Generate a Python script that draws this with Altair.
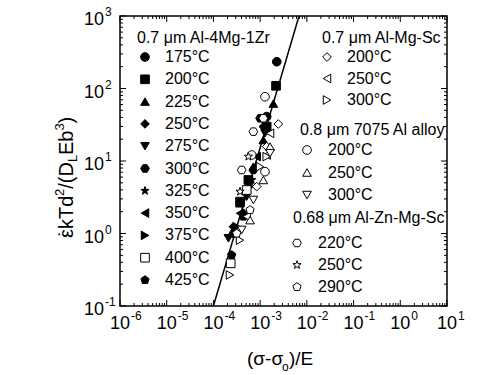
import altair as alt
import pandas as pd

W, H = 327, 290
FONT = "Liberation Sans"

# ---------------- data ----------------
zr175_x = [2.27e-3, 1.38e-3]; zr175_y = [234, 41]
zr200_x = [2.19e-3, 1.38e-3, 5.6e-4, 3.71e-4]; zr200_y = [109, 29.8, 5.47, 2.75]
zr225_x = [1.92e-3, 1.17e-3, 7.16e-4, 3.71e-4]; zr225_y = [62, 19.5, 8.35, 2.61]
zr250_x = [1.17e-3, 8.45e-4, 2.67e-4, 4.38e-4]; zr250_y = [29.8, 8.35, 1.24, 1.9]
zr275_x = [1.27e-3, 5.15e-4, 2.09e-4]; zr275_y = [24.1, 3.22, 0.857]
zr300_x = [9.95e-4, 7.16e-4, 2.67e-4]; zr300_y = [38.8, 7.52, 1.0]
zr325_x = [5.15e-4, 6.59e-4]; zr325_y = [3.58, 5.47]
zr350_x = [3.71e-4, 8.45e-4]; zr350_y = [1.9, 11.5]
zr375_x = [3.15e-4, 6.08e-4]; zr375_y = [1.24, 4.43]
zr400_x = [2.34e-4, 5.15e-4]; zr400_y = [0.388, 3.98]
zr425_x = [2.46e-4, 4.38e-4]; zr425_y = [0.505, 1.71]

sc200_x = [2.45e-3, 8.45e-4, 1.38e-3]; sc200_y = [32.4, 4.43, 15.8]
sc250_x = [1.38e-3, 5.15e-4, 1.63e-3]; sc250_y = [12.1, 1.71, 24.1]
sc300_x = [2.26e-4, 9.95e-4, 3.71e-4, 1.38e-3]; sc300_y = [0.268, 8.35, 0.81, 11.5]
al200_x = [1.27e-3, 1.27e-3, 6.59e-4]; al200_y = [77, 7.13, 12.1]
al250_x = [1.63e-3, 1.17e-3, 6.08e-4]; al250_y = [15.8, 5.47, 1.53]
al300_x = [7.16e-4, 1.63e-3, 4.03e-4]; al300_y = [2.9, 12.8, 1.12]
zn220_x = [7.16e-4, 4.03e-4, 1.17e-3]; zn220_y = [25.4, 7.52, 38.8]
zn250_x = [5.6e-4, 3.71e-4]; zn250_y = [11.5, 3.78]
zn290_x = [3.15e-4, 6.08e-4]; zn290_y = [1.0, 2.11]

fit_x = [1e-4, 6.8e-3]
fit_y = [0.1, 1000]

x_exponents = ["-6", "-5", "-4", "-3", "-2", "-1", "0", "1"]
y_exponents = ["-1", "0", "1", "2", "3"]

group_titles = ["0.7 μm Al-4Mg-1Zr", "0.7 μm Al-Mg-Sc", "0.8 μm 7075 Al alloy", "0.68 μm Al-Zn-Mg-Sc"]

# ---------------- styles ----------------
HEX = "M1,0L0.5,0.866L-0.5,0.866L-1,0L-0.5,-0.866L0.5,-0.866Z"
PENT = "M0,-1L0.951,-0.309L0.588,0.809L-0.588,0.809L-0.951,-0.309Z"
STAR = ("M0,-1L0.235,-0.324L0.951,-0.309L0.380,0.124L0.588,0.809L0,0.4"
        "L-0.588,0.809L-0.380,0.124L-0.951,-0.309L-0.235,-0.324Z")

# key, label, shape, fill, group, xs, ys
series = [
    ("zr175", "175°C", "circle", "black", 0, zr175_x, zr175_y),
    ("zr200", "200°C", "square", "black", 0, zr200_x, zr200_y),
    ("zr225", "225°C", "triangle-up", "black", 0, zr225_x, zr225_y),
    ("zr250", "250°C", "diamond", "black", 0, zr250_x, zr250_y),
    ("zr275", "275°C", "triangle-down", "black", 0, zr275_x, zr275_y),
    ("zr300", "300°C", HEX, "black", 0, zr300_x, zr300_y),
    ("zr325", "325°C", STAR, "black", 0, zr325_x, zr325_y),
    ("zr350", "350°C", "triangle-left", "black", 0, zr350_x, zr350_y),
    ("zr375", "375°C", "triangle-right", "black", 0, zr375_x, zr375_y),
    ("zr400", "400°C", "square", "white", 0, zr400_x, zr400_y),
    ("zr425", "425°C", PENT, "black", 0, zr425_x, zr425_y),
    ("sc200", "200°C", "diamond", "white", 1, sc200_x, sc200_y),
    ("sc250", "250°C", "triangle-left", "white", 1, sc250_x, sc250_y),
    ("sc300", "300°C", "triangle-right", "white", 1, sc300_x, sc300_y),
    ("al200", "200°C", "circle", "white", 2, al200_x, al200_y),
    ("al250", "250°C", "triangle-up", "white", 2, al250_x, al250_y),
    ("al300", "300°C", "triangle-down", "white", 2, al300_x, al300_y),
    ("zn220", "220°C", HEX, "white", 3, zn220_x, zn220_y),
    ("zn250", "250°C", STAR, "white", 3, zn250_x, zn250_y),
    ("zn290", "290°C", PENT, "white", 3, zn290_x, zn290_y),
]

keys = [s[0] for s in series]
shapes = [s[2] for s in series]
fills = [s[3] for s in series]

rows = []
order = 0
# filled first, then open symbols on top
for s in sorted(series, key=lambda t: 0 if t[3] == "black" else 1):
    for xv, yv in zip(s[5], s[6]):
        rows.append({"x": xv, "y": yv, "s": s[0], "o": order})
        order += 1
df = pd.DataFrame(rows)

# legend layout (pixel positions inside the plot area)
group_layout = {  # header x, header y, marker x, text x, first row y, row step
    0: (17, 22, 25, 45, 41, 22.3),
    1: (202, 22, 207, 227, 41, 21.5),
    2: (180, 114, 187, 208, 134, 22.5),
    3: (173, 202, 177, 198, 227, 22.0),
}
leg_rows = []
counters = {0: 0, 1: 0, 2: 0, 3: 0}
for s in series:
    g = s[4]
    hx, hy, mx, tx, y0, step = group_layout[g]
    i = counters[g]
    counters[g] += 1
    leg_rows.append({"s": s[0], "label": s[1], "mx": mx, "tx": tx, "ly": y0 + i * step})
leg = pd.DataFrame(leg_rows)
heads = pd.DataFrame([
    {"t": group_titles[g], "hx": group_layout[g][0], "hy": group_layout[g][1]} for g in range(4)
])

xsc = alt.Scale(type="log", domain=[1e-6, 10], nice=False)
ysc = alt.Scale(type="log", domain=[0.1, 1000], nice=False)
shape_sc = alt.Scale(domain=keys, range=shapes)
fill_sc = alt.Scale(domain=keys, range=fills)
SIZE = 75

# ---------------- ticks ----------------
x_major = [10.0 ** e for e in range(-6, 2)]
x_minor = [m * 10.0 ** e for e in range(-6, 1) for m in range(2, 10)]
y_major = [10.0 ** e for e in range(-1, 4)]
y_minor = [m * 10.0 ** e for e in range(-1, 3) for m in range(2, 10)]
MAJ, MIN = 6, 3
xt = []
for v in x_major:
    xt += [{"v": v, "p0": H, "p1": H - MAJ}, {"v": v, "p0": 0, "p1": MAJ}]
for v in x_minor:
    xt += [{"v": v, "p0": H, "p1": H - MIN}, {"v": v, "p0": 0, "p1": MIN}]
yt = []
for v in y_major:
    yt += [{"v": v, "p0": 0, "p1": MAJ}, {"v": v, "p0": W, "p1": W - MAJ}]
for v in y_minor:
    yt += [{"v": v, "p0": 0, "p1": MIN}, {"v": v, "p0": W, "p1": W - MIN}]
xt = pd.DataFrame(xt)
yt = pd.DataFrame(yt)

xticks = alt.Chart(xt).mark_rule(color="black", strokeWidth=1).encode(
    x=alt.X("v:Q", scale=xsc, axis=None),
    y=alt.Y("p0:Q", scale=None, axis=None),
    y2="p1:Q",
)
yticks = alt.Chart(yt).mark_rule(color="black", strokeWidth=1).encode(
    y=alt.Y("v:Q", scale=ysc, axis=None),
    x=alt.X("p0:Q", scale=None, axis=None),
    x2="p1:Q",
)

xl = pd.DataFrame({"v": x_major, "e": x_exponents})
yl = pd.DataFrame({"v": y_major, "e": y_exponents})

xlab10 = alt.Chart(xl).mark_text(font=FONT, fontSize=18, align="center", baseline="middle").encode(
    x=alt.X("v:Q", scale=xsc, axis=None), y=alt.value(H + 18), text=alt.value("10"))
xlabE = alt.Chart(xl).mark_text(font=FONT, fontSize=12, align="left", baseline="middle", dx=11).encode(
    x=alt.X("v:Q", scale=xsc, axis=None), y=alt.value(H + 10), text="e:N")
ylab10 = alt.Chart(yl).mark_text(font=FONT, fontSize=18, align="right", baseline="middle", dy=4).encode(
    y=alt.Y("v:Q", scale=ysc, axis=None), x=alt.value(-16), text=alt.value("10"))
ylabE = alt.Chart(yl).mark_text(font=FONT, fontSize=12, align="left", baseline="middle", dy=-4).encode(
    y=alt.Y("v:Q", scale=ysc, axis=None), x=alt.value(-15), text="e:N")

# ---------------- fit line & points ----------------
fit = alt.Chart(pd.DataFrame({"x": fit_x, "y": fit_y})).mark_line(color="black", strokeWidth=1.5, clip=True).encode(
    x=alt.X("x:Q", scale=xsc, axis=None), y=alt.Y("y:Q", scale=ysc, axis=None))

pts = alt.Chart(df).mark_point(filled=True, stroke="black", strokeWidth=1, opacity=1, size=SIZE).encode(
    x=alt.X("x:Q", scale=xsc, axis=None),
    y=alt.Y("y:Q", scale=ysc, axis=None),
    shape=alt.Shape("s:N", scale=shape_sc, legend=None),
    fill=alt.Fill("s:N", scale=fill_sc, legend=None),
    order=alt.Order("o:Q"),
)

# ---------------- legend ----------------
leg_pts = alt.Chart(leg).mark_point(filled=True, stroke="black", strokeWidth=1, opacity=1, size=SIZE).encode(
    x=alt.X("mx:Q", scale=None, axis=None),
    y=alt.Y("ly:Q", scale=None, axis=None),
    shape=alt.Shape("s:N", scale=shape_sc, legend=None),
    fill=alt.Fill("s:N", scale=fill_sc, legend=None),
)
leg_txt = alt.Chart(leg).mark_text(font=FONT, fontSize=16, align="left", baseline="middle").encode(
    x=alt.X("tx:Q", scale=None, axis=None),
    y=alt.Y("ly:Q", scale=None, axis=None),
    text="label:N",
)
head_txt = alt.Chart(heads).mark_text(font=FONT, fontSize=16, align="left", baseline="middle").encode(
    x=alt.X("hx:Q", scale=None, axis=None),
    y=alt.Y("hy:Q", scale=None, axis=None),
    text="t:N",
)

# ---------------- axis titles ----------------
one = pd.DataFrame({"a": [0]})
def txt(t, x, y, size=19, angle=0, align="left", baseline="alphabetic"):
    return alt.Chart(one).mark_text(text=t, font=FONT, fontSize=size, angle=angle,
                                    align=align, baseline=baseline).encode(
        x=alt.value(x), y=alt.value(y))

# x title: (σ-σ_o)/E
xt1 = txt("(σ-σ", 127, 349)
xt2 = txt("o", 162, 355, size=12)
xt3 = txt(")/E", 169, 349)

# y title: ε̇ kTd^2/(D_L E b^3), rotated, pieces laid from bottom to top
BX = -47          # baseline (rotated)
SUPX = BX - 9
SUBX = BX + 4
yt_pieces = [
    txt("εkTd", BX, 222, size=20, angle=270),
    txt("˙", BX, 217.5, size=20, angle=270, align="center"),
    txt("2", SUPX, 180, size=13, angle=270),
    txt("/(D", BX, 172.8, size=20, angle=270),
    txt("L", SUBX, 146, size=13, angle=270),
    txt("Eb", BX, 139, size=20, angle=270),
    txt("3", SUPX, 114.6, size=13, angle=270),
    txt(")", BX, 107.4, size=20, angle=270),
]

chart = alt.layer(
    fit, pts, xticks, yticks, xlab10, xlabE, ylab10, ylabE,
    leg_pts, leg_txt, head_txt, xt1, xt2, xt3, *yt_pieces,
).resolve_scale(x="independent", y="independent").properties(
    width=W, height=H,
    autosize="none",
    padding={"left": 120, "top": 16, "right": 53, "bottom": 69},
    background="white",
).configure_view(stroke="black", strokeWidth=1.5)

chart.save("out.html", embed_options={"renderer": "svg", "actions": False})
